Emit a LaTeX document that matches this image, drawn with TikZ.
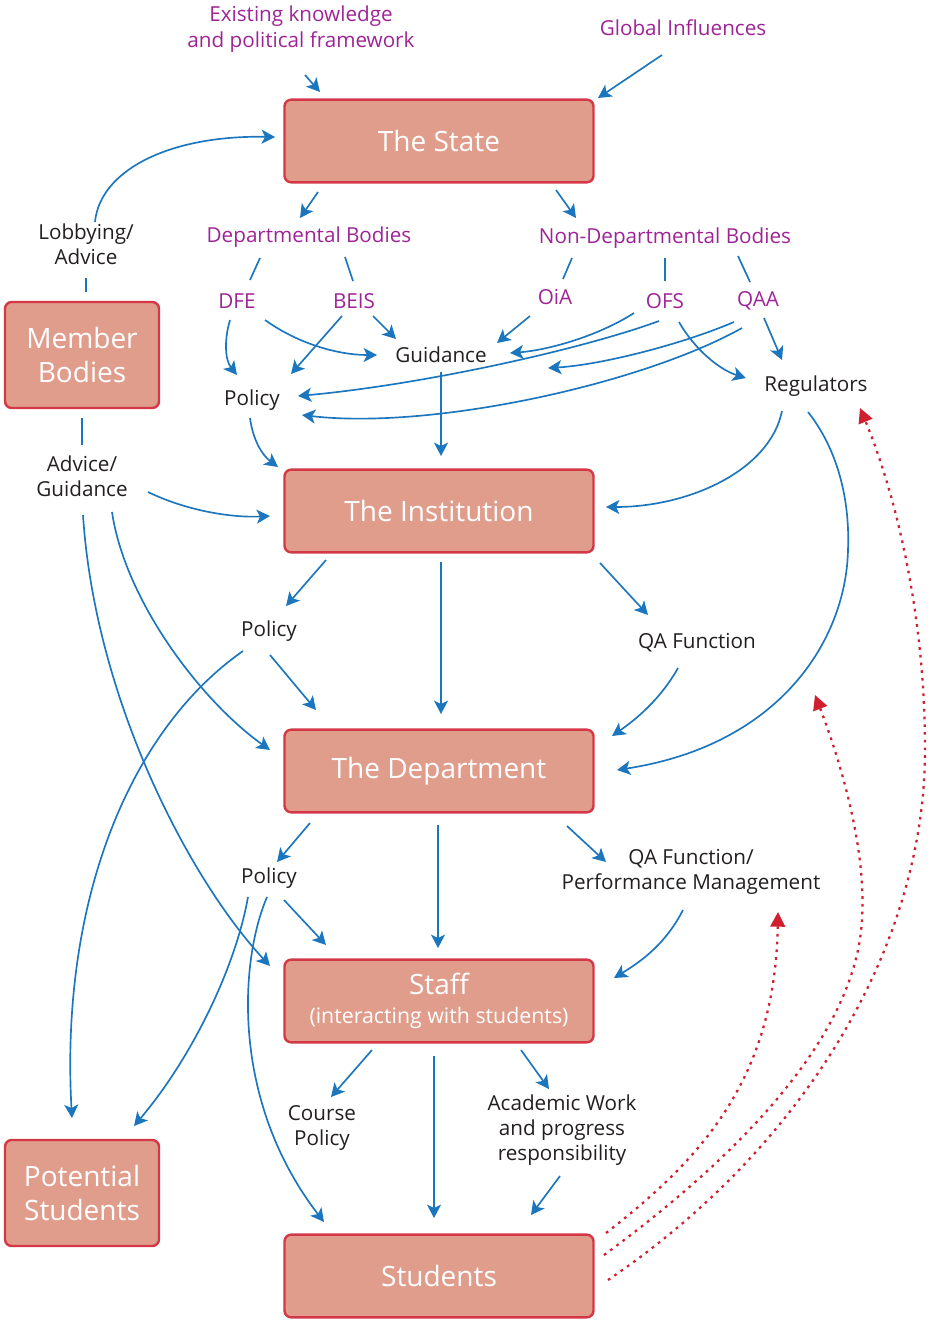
\documentclass[tikz,border=0pt]{standalone}
\usepackage{fontspec}
\setmainfont{Open Sans}
\usetikzlibrary{arrows.meta,calc}

\definecolor{boxfill}{RGB}{224,157,140}
\definecolor{boxline}{RGB}{212,56,70}
\definecolor{flow}{RGB}{28,118,190}
\definecolor{purp}{RGB}{158,36,150}
\definecolor{ink}{RGB}{35,31,32}
\definecolor{fbred}{RGB}{208,32,48}

\tikzset{
  box/.style={draw=boxline, fill=boxfill, line width=1.8pt, rounded corners=5pt,
    text=white, font=\fontsize{21}{25}\selectfont, align=center, inner sep=0pt,
    minimum width=231.75pt, minimum height=62pt},
  sidebox/.style={box, minimum width=115.5pt, minimum height=79.5pt},
  lbl/.style={text=ink, font=\fontsize{15.5}{19}\selectfont, align=center, inner sep=1pt},
  plbl/.style={lbl, text=purp},
  arr/.style={draw=flow, line width=1.25pt, -{Stealth[length=10pt,width=10.5pt,inset=2.5pt]}},
  link/.style={draw=flow, line width=1.25pt},
  fb/.style={draw=fbred, line width=1.7pt, dash pattern=on 2pt off 3.8pt,
    -{Triangle[length=11pt,width=11pt]}}
}

\begin{document}
\begin{tikzpicture}[x=0.75pt,y=-0.75pt]
\path[use as bounding box] (0,0) rectangle (931,1321);

% ---- boxes ----
\node[box] (state) at (439,141) {The State};
\node[sidebox] (member) at (82,355) {Member\\Bodies};
\node[box] (inst) at (439,511) {The Institution};
\node[box] (dept) at (439,771) {The Department};
\node[box] (staff) at (439,1001) {Staff\\[-3pt]{\fontsize{16}{19}\selectfont(interacting with students)}};
\node[sidebox] (potential) at (82,1193) {Potential\\Students};
\node[box] (students) at (439,1276) {Students};

% ---- labels ----
\node[plbl] (exist) at (301,29) {Existing knowledge\\and political framework};
\node[plbl] (glob) at (683,28) {Global Influences};
\node[lbl] (lobby) at (86,244) {Lobbying/\\Advice};
\node[plbl] (deptb) at (309,237) {Departmental Bodies};
\node[plbl] (nondept) at (665,238) {Non-Departmental Bodies};
\node[plbl] (dfe) at (237,301) {DFE};
\node[plbl] (beis) at (354,301) {BEIS};
\node[plbl] (oia) at (555,297) {OiA};
\node[plbl] (ofs) at (665,301) {OFS};
\node[plbl] (qaa) at (758,301) {QAA};
\node[lbl] (guid) at (441,355) {Guidance};
\node[lbl] (pol1) at (252,400) {Policy};
\node[lbl] (regs) at (816,386) {Regulators};
\node[lbl] (advice) at (82,476) {Advice/\\Guidance};
\node[lbl] (pol2) at (269,631) {Policy};
\node[lbl] (qaf) at (697,643) {QA Function};
\node[lbl] (pol3) at (269,878) {Policy};
\node[lbl] (qapm) at (691,872) {QA Function/\\Performance Management};
\node[lbl] (course) at (322,1128) {Course\\Policy};
\node[lbl] (acad) at (562,1130) {Academic Work\\and progress\\responsibility};

% ---- into the State ----
\draw[arr] ($(exist)+(4,46)$) -- ($(state)+(-119,-49)$);
\draw[arr] ($(glob)+(-21,27)$) -- ($(state)+(159,-43)$);
\draw[arr] ($(lobby)+(9,-22)$) .. controls (100,170) and (170,135) .. ($(state)+(-164,-4)$);
\draw[link] ($(lobby)+(0,34)$) -- ($(member)+(4,-63)$);

% ---- State to its bodies ----
\draw[arr] ($(state)+(-121,51)$) -- ($(deptb)+(-9,-19)$);
\draw[arr] ($(state)+(117,49)$) -- ($(nondept)+(-89,-20)$);
\draw[link] ($(deptb)+(-49,21)$) -- ($(dfe)+(13,-21)$);
\draw[link] ($(deptb)+(36,20)$) -- ($(beis)+(-1,-20)$);
\draw[link] ($(nondept)+(-93,20)$) -- ($(oia)+(8,-18)$);
\draw[link] ($(nondept)+(0,20)$) -- ($(ofs)+(0,-20)$);
\draw[link] ($(nondept)+(73,18)$) -- ($(qaa)+(-8,-19)$);

% ---- bodies to policy, guidance and regulators ----
\draw[arr] ($(dfe)+(-7,19)$) .. controls (224,340) and (225,360) .. ($(pol1)+(-15,-25)$);
\draw[arr] ($(dfe)+(28,19)$) .. controls (300,345) and (340,355) .. ($(guid)+(-64,0)$);
\draw[arr] ($(beis)+(-12,15)$) -- ($(pol1)+(39,-26)$);
\draw[arr] ($(beis)+(19,15)$) -- ($(guid)+(-45,-16)$);
\draw[arr] ($(oia)+(-25,19)$) -- ($(guid)+(56,-12)$);
\draw[arr] ($(ofs)+(-31,12)$) .. controls (600,335) and (550,350) .. ($(guid)+(69,-2)$);
\draw[arr] ($(ofs)+(-6,20)$) .. controls (580,350) and (420,385) .. ($(pol1)+(46,-4)$);
\draw[arr] ($(qaa)+(-24,21)$) .. controls (680,345) and (600,365) .. ($(guid)+(107,13)$);
\draw[arr] ($(qaa)+(-16,27)$) .. controls (640,385) and (430,430) .. ($(pol1)+(50,15)$);
\draw[arr] ($(ofs)+(14,21)$) .. controls (695,350) and (720,370) .. ($(regs)+(-70,-8)$);
\draw[arr] ($(qaa)+(6,17)$) -- ($(regs)+(-34,-26)$);

% ---- into the Institution ----
\draw[arr] ($(guid)+(0,17)$) -- ($(inst)+(2,-55)$);
\draw[arr] ($(pol1)+(-2,18)$) .. controls (253,440) and (262,455) .. ($(inst)+(-161,-44)$);
\draw[arr] ($(regs)+(-34,25)$) .. controls (770,470) and (690,507) .. ($(inst)+(167,-4)$);
\draw[arr] ($(regs)+(-8,26)$) .. controls (838,450) and (850,500) .. (848,550)
  .. controls (846,640) and (780,745) .. ($(dept)+(178,-1)$);

% ---- member bodies advice ----
\draw[link] ($(member)+(0,63)$) -- ($(advice)+(0,-31)$);
\draw[arr] ($(advice)+(66,16)$) .. controls (185,510) and (230,518) .. ($(inst)+(-169,5)$);
\draw[arr] ($(advice)+(30,36)$) .. controls (125,600) and (200,700) .. ($(dept)+(-169,-21)$);
\draw[arr] ($(advice)+(1,39)$) .. controls (95,700) and (190,880) .. ($(staff)+(-169,-35)$);

% ---- Institution level ----
\draw[arr] ($(inst)+(-113,49)$) -- ($(pol2)+(17,-25)$);
\draw[arr] ($(inst)+(2,51)$) -- ($(dept)+(2,-57)$);
\draw[arr] ($(inst)+(161,52)$) -- ($(qaf)+(-49,-28)$);
\draw[arr] ($(pol2)+(1,24)$) -- ($(dept)+(-123,-61)$);
\draw[arr] ($(pol2)+(-26,20)$) .. controls (130,730) and (60,900) .. ($(potential)+(-10,-75)$);
\draw[arr] ($(qaf)+(-19,25)$) .. controls (660,700) and (635,720) .. ($(dept)+(173,-35)$);

% ---- Department level ----
\draw[arr] ($(dept)+(-129,52)$) -- ($(pol3)+(8,-16)$);
\draw[arr] ($(dept)+(-1,54)$) -- ($(staff)+(-1,-53)$);
\draw[arr] ($(dept)+(128,55)$) -- ($(qapm)+(-85,-10)$);
\draw[arr] ($(pol3)+(15,22)$) -- ($(staff)+(-113,-56)$);
\draw[arr] ($(pol3)+(-21,19)$) .. controls (235,970) and (190,1060) .. ($(potential)+(52,-67)$);
\draw[arr] ($(pol3)+(-2,19)$) .. controls (240,960) and (230,1100) .. ($(students)+(-115,-54)$);
\draw[arr] ($(qapm)+(-8,38)$) .. controls (665,945) and (640,962) .. ($(staff)+(175,-23)$);

% ---- Staff level ----
\draw[arr] ($(staff)+(-67,49)$) -- ($(course)+(9,-31)$);
\draw[arr] ($(staff)+(-5,55)$) -- ($(students)+(-5,-58)$);
\draw[arr] ($(staff)+(82,49)$) -- ($(acad)+(-13,-41)$);
\draw[arr] ($(acad)+(-2,46)$) -- ($(students)+(92,-61)$);

% ---- student feedback ----
\draw[fb] ($(students)+(167,-43)$) .. controls (700,1160) and (775,1080) .. ($(qapm)+(87,40)$);
\draw[fb] ($(students)+(165,-21)$) .. controls (720,1170) and (835,1060) .. (858,950)
  .. controls (875,870) and (840,760) .. ($(dept)+(376,-76)$);
\draw[fb] ($(students)+(169,4)$) .. controls (800,1150) and (925,950) .. (925,750)
  .. controls (925,600) and (890,480) .. ($(regs)+(44,22)$);
\end{tikzpicture}
\end{document}
